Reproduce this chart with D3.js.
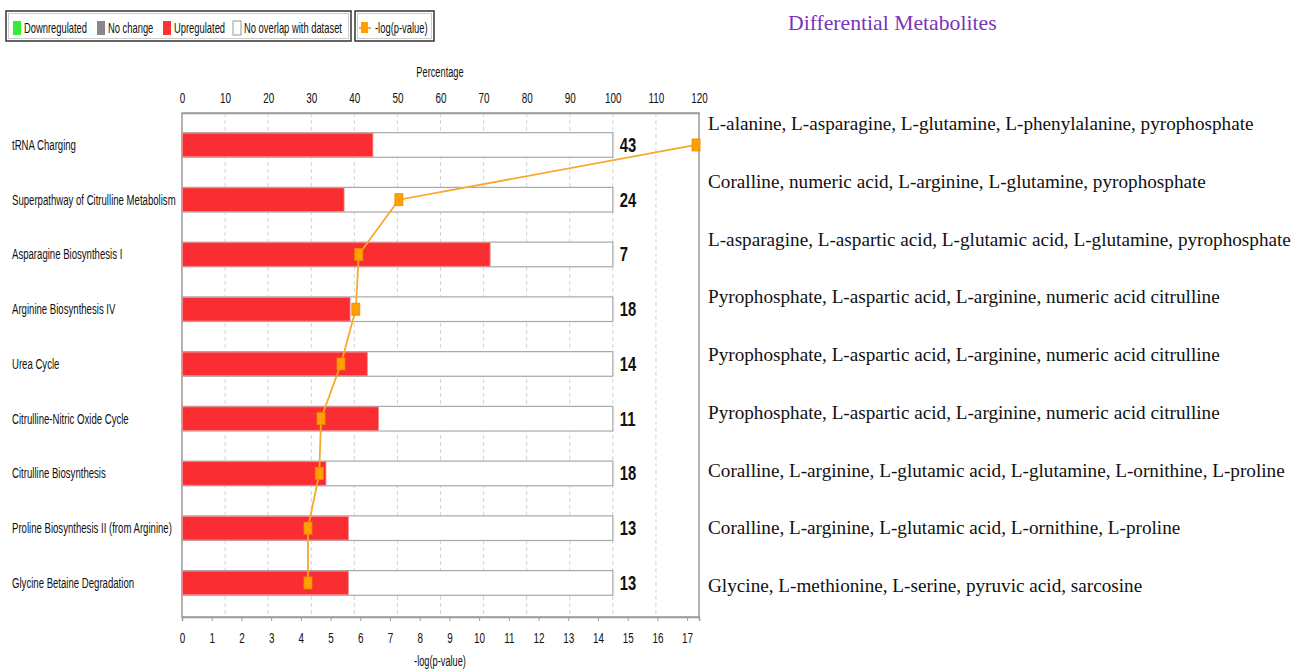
<!DOCTYPE html>
<html><head><meta charset="utf-8">
<script src="https://cdn.jsdelivr.net/npm/d3@7"></script>
<style>
body{margin:0;background:#fff;}
svg{display:block;}
</style></head>
<body>
<svg id="chart" width="1304" height="671"></svg>
<script>
const pathways = ["tRNA Charging","Superpathway of Citrulline Metabolism","Asparagine Biosynthesis I","Arginine Biosynthesis IV","Urea Cycle","Citrulline-Nitric Oxide Cycle","Citrulline Biosynthesis","Proline Biosynthesis II (from Arginine)","Glycine Betaine Degradation"];
const upregulatedPct = [44.2, 37.5, 71.4, 38.9, 42.9, 45.5, 33.3, 38.5, 38.5];
const totalCounts = [43, 24, 7, 18, 14, 11, 18, 13, 13];
const negLogP = [17.3, 7.3, 5.95, 5.85, 5.35, 4.68, 4.62, 4.24, 4.24];
const metabolites = [
 "L-alanine, L-asparagine, L-glutamine, L-phenylalanine, pyrophosphate",
 "Coralline, numeric acid, L-arginine, L-glutamine, pyrophosphate",
 "L-asparagine, L-aspartic acid, L-glutamic acid, L-glutamine, pyrophosphate",
 "Pyrophosphate, L-aspartic acid, L-arginine, numeric acid citrulline",
 "Pyrophosphate, L-aspartic acid, L-arginine, numeric acid citrulline",
 "Pyrophosphate, L-aspartic acid, L-arginine, numeric acid citrulline",
 "Coralline, L-arginine, L-glutamic acid, L-glutamine, L-ornithine, L-proline",
 "Coralline, L-arginine, L-glutamic acid, L-ornithine,  L-proline",
 "Glycine, L-methionine, L-serine, pyruvic acid, sarcosine"
];
const pctTicks = [0,10,20,30,40,50,60,70,80,90,100,110,120];
const logTicks = [0,1,2,3,4,5,6,7,8,9,10,11,12,13,14,15,16,17];
const legendItems = [
 {label:"Downregulated", color:"#33ee33"},
 {label:"No change", color:"#888888"},
 {label:"Upregulated", color:"#ff3333"},
 {label:"No overlap with dataset", color:"#ffffff"}
];

const SANS = "'Liberation Sans', Arial, sans-serif";
const SERIF = "'Liberation Serif', 'Times New Roman', serif";
const svg = d3.select("#chart");
const L = 182, R = 699, T = 113, B = 617;
const xPct = d3.scaleLinear().domain([0,120]).range([L,R]);
const xLog = d3.scaleLinear().domain([0,17.4]).range([L,R]);
const y = d3.scaleBand().domain(pathways).range([117.6,610.3]).paddingInner(0.55).paddingOuter(0.275);
const yText = d3.scalePoint().domain(pathways).range([124,586]);
const NX = 0.66; // horizontal condensing of the narrow UI font

// gridlines
svg.append("g").selectAll("line").data(pctTicks.filter(d=>d>0 && d<120)).join("line")
  .attr("x1",d=>xPct(d)).attr("x2",d=>xPct(d)).attr("y1",T).attr("y2",B)
  .attr("stroke","#d4d4d4").attr("stroke-dasharray","4,3");

// frame
svg.append("rect").attr("x",L).attr("y",T).attr("width",R-L).attr("height",B-T)
  .attr("fill","none").attr("stroke","#9a9a9a").attr("stroke-width",1.5);

// top axis
const gTop = svg.append("g").attr("transform",`translate(0,${T})`)
  .call(d3.axisTop(xPct).tickValues(pctTicks).tickSize(0).tickPadding(10));
gTop.select(".domain").attr("stroke","#9a9a9a").attr("stroke-width",1.5);
gTop.selectAll("text").style("font-size","15px").style("font-family",SANS).attr("fill","#111").attr("transform",`scale(${NX},1)`);
svg.append("text").attr("transform",`translate(440,77) scale(${NX},1)`).attr("text-anchor","middle")
  .style("font-size","14px").style("font-family",SANS).attr("fill","#111").text("Percentage");

// bottom axis
const gBot = svg.append("g").attr("transform",`translate(0,${B})`)
  .call(d3.axisBottom(xLog).tickValues(logTicks).tickSize(4).tickPadding(11).tickFormat(d3.format("d")));
gBot.select(".domain").attr("stroke","#9a9a9a").attr("stroke-width",1.5);
gBot.selectAll(".tick line").attr("stroke","#9a9a9a");
gBot.selectAll("text").style("font-size","15px").style("font-family",SANS).attr("fill","#111").attr("transform",`scale(${NX},1)`);
svg.append("text").attr("transform",`translate(440,666) scale(${NX},1)`).attr("text-anchor","middle")
  .style("font-size","14px").style("font-family",SANS).attr("fill","#111").text("-log(p-value)");

// bars
const rows = svg.append("g").selectAll("g").data(pathways).join("g");
rows.append("rect").attr("x",xPct(0)).attr("y",d=>y(d)).attr("width",xPct(100)-xPct(0))
  .attr("height",y.bandwidth()).attr("fill","#fff").attr("stroke","#a8a8a8").attr("stroke-width",1.2);
rows.append("rect").attr("x",xPct(0)+0.5).attr("y",d=>y(d)+0.5).attr("width",(d,i)=>xPct(upregulatedPct[i])-xPct(0))
  .attr("height",y.bandwidth()-1).attr("fill","#fa2d33").attr("stroke","#f28a8a").attr("stroke-width",0.8);

// count labels
rows.append("text").attr("transform",(d,i)=>`translate(${xPct(100)+7},${y(d)+y.bandwidth()/2+7}) scale(0.74,1)`)
  .style("font-size","20px").style("font-family",SANS).attr("font-weight","bold").attr("fill","#111").text((d,i)=>totalCounts[i]);

// category labels
rows.append("text").attr("transform",d=>`translate(12,${y(d)+y.bandwidth()/2+5}) scale(0.64,1)`)
  .style("font-size","15px").style("font-family",SANS).attr("fill","#111").text(d=>d);

// -log(p) line
const line = d3.line().x(d=>xLog(d.v)).y(d=>y(d.p)+y.bandwidth()/2);
const lineData = pathways.map((p,i)=>({p, v:negLogP[i]}));
svg.append("path").datum(lineData).attr("d",line).attr("fill","none").attr("stroke","#f5aa2a").attr("stroke-width",1.8);
svg.append("g").selectAll("rect").data(lineData).join("rect")
  .attr("x",d=>xLog(d.v)-4).attr("y",d=>y(d.p)+y.bandwidth()/2-6).attr("width",8).attr("height",12)
  .attr("fill","#ff9f00").attr("stroke","#e58c00").attr("stroke-width",0.8);

// legend
const leg = svg.append("g");
leg.append("rect").attr("x",6).attr("y",11).attr("width",345).attr("height",30).attr("fill","#fff").attr("stroke","#333").attr("stroke-width",1.5);
leg.append("rect").attr("x",8.5).attr("y",13.5).attr("width",340).attr("height",25).attr("fill","none").attr("stroke","#ccc").attr("stroke-width",1);
const legX = [13, 97, 163, 233];
legendItems.forEach((it,i)=>{
  leg.append("rect").attr("x",legX[i]).attr("y",21).attr("width",8).attr("height",14)
    .attr("fill",it.color).attr("stroke",it.color==="#ffffff"?"#999":"none");
  leg.append("text").attr("transform",`translate(${legX[i]+11},33) scale(0.67,1)`)
    .style("font-size","14px").style("font-family",SANS).attr("fill","#111").text(it.label);
});
leg.append("rect").attr("x",355).attr("y",11).attr("width",79).attr("height",30).attr("fill","#fff").attr("stroke","#333").attr("stroke-width",1.5);
leg.append("rect").attr("x",357.5).attr("y",13.5).attr("width",74).attr("height",25).attr("fill","none").attr("stroke","#ccc").attr("stroke-width",1);
leg.append("line").attr("x1",359).attr("x2",371).attr("y1",28).attr("y2",28).attr("stroke","#f5aa2a").attr("stroke-width",2);
leg.append("rect").attr("x",361).attr("y",22).attr("width",7).attr("height",11).attr("fill","#ff9f00");
leg.append("text").attr("transform",`translate(375,33) scale(0.67,1)`)
  .style("font-size","14px").style("font-family",SANS).attr("fill","#111").text("-log(p-value)");

// title
svg.append("text").attr("x",788).attr("y",30).style("font-family",SERIF)
  .style("font-size","21.7px").attr("fill","#7a35b8").text("Differential Metabolites");

// metabolite annotations
svg.append("g").selectAll("text").data(pathways).join("text")
  .attr("x",708).attr("y",d=>yText(d)+6).style("font-family",SERIF)
  .style("font-size","19.2px").attr("fill","#111").text((d,i)=>metabolites[i]);
</script>
</body></html>
